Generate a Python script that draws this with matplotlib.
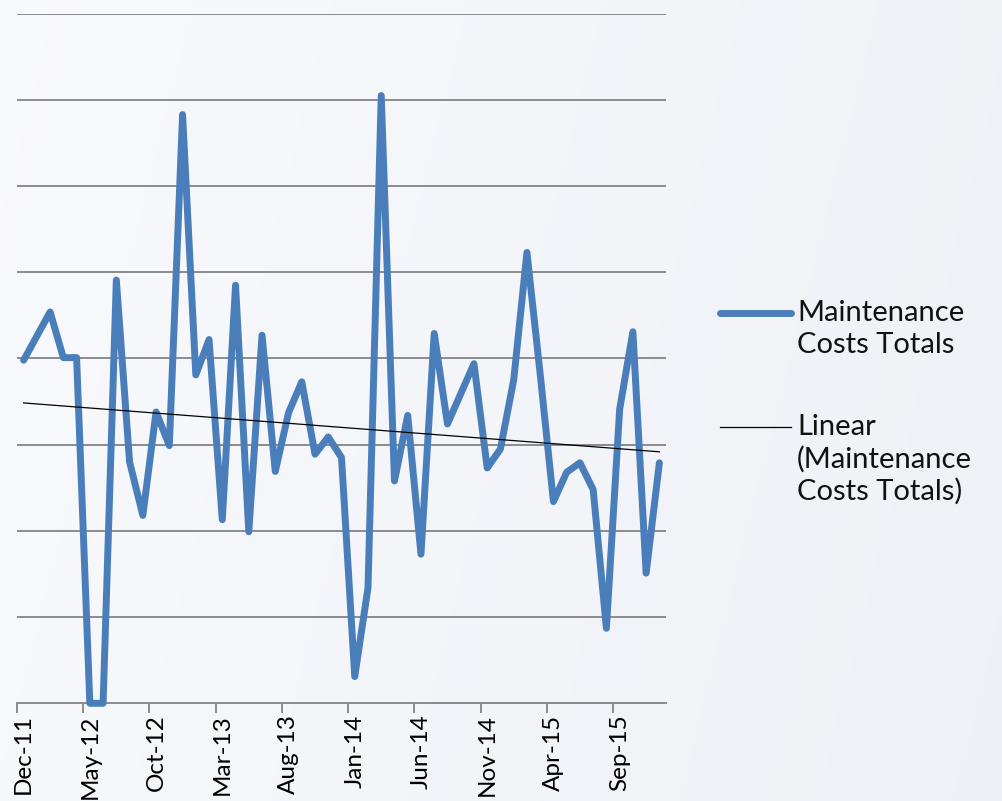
import numpy as np
import matplotlib
matplotlib.use("Agg")
import matplotlib.pyplot as plt
from matplotlib.lines import Line2D

# monthly maintenance cost totals (in gridline units), Dec-11 .. Dec-15
months = ["Dec-11", "Jan-12", "Feb-12", "Mar-12", "Apr-12", "May-12", "Jun-12",
          "Jul-12", "Aug-12", "Sep-12", "Oct-12", "Nov-12", "Dec-12", "Jan-13",
          "Feb-13", "Mar-13", "Apr-13", "May-13", "Jun-13", "Jul-13", "Aug-13",
          "Sep-13", "Oct-13", "Nov-13", "Dec-13", "Jan-14", "Feb-14", "Mar-14",
          "Apr-14", "May-14", "Jun-14", "Jul-14", "Aug-14", "Sep-14", "Oct-14",
          "Nov-14", "Dec-14", "Jan-15", "Feb-15", "Mar-15", "Apr-15", "May-15",
          "Jun-15", "Jul-15", "Aug-15", "Sep-15", "Oct-15", "Nov-15", "Dec-15"]
costs = [3.98, 4.26, 4.54, 4.01, 4.01, 0.0, 0.0, 4.91, 2.80, 2.18,
         3.38, 2.99, 6.83, 3.81, 4.22, 2.13, 4.85, 1.99, 4.27, 2.69,
         3.37, 3.73, 2.89, 3.09, 2.85, 0.31, 1.34, 7.05, 2.58, 3.34,
         1.73, 4.29, 3.24, 3.59, 3.94, 2.73, 2.95, 3.75, 5.23, 3.82,
         2.34, 2.68, 2.79, 2.48, 0.87, 3.41, 4.31, 1.51, 2.79]

x = np.arange(len(costs))
slope, icpt = np.polyfit(x, costs, 1)
trend = slope * x + icpt

W, H = 1002, 801
fig = plt.figure(figsize=(W / 100, H / 100), dpi=100)

# soft background wash
bg = fig.add_axes([0, 0, 1, 1], zorder=-10)
gx = np.linspace(0, 1, 200)
gy = np.linspace(0, 1, 160)
GX, GY = np.meshgrid(gx, gy)
c0 = np.array([0.975, 0.978, 0.992])
c1 = np.array([0.930, 0.940, 0.960])
t = np.clip(0.75 * GX + 0.15 * GY, 0, 1)[..., None]
bg.imshow(c0 * (1 - t) + c1 * t, aspect="auto", extent=[0, 1, 0, 1])
bg.axis("off")

ax = fig.add_axes([17 / W, 1 - 703.3 / H, 649 / W, 689.6 / H])
ax.patch.set_alpha(0)

ax.plot(x, costs, color="#4a7ebb", lw=5, solid_joinstyle="round",
        solid_capstyle="round", clip_on=False, zorder=3)
ax.plot(x, trend, color="black", lw=0.9, zorder=4)

ax.set_xlim(-0.5, len(costs) - 0.5)
ax.set_ylim(0, 8)
ax.set_yticks(np.arange(0, 9))
ax.yaxis.grid(True, color="#8c8c8c", lw=1.4)
ax.tick_params(axis="y", left=False, labelleft=False)

ax.set_xticks(x[::5])
ax.set_xticklabels(months[::5], rotation=90, fontsize=17.5, family="Lato")
ax.set_xticks(np.arange(-0.5, len(costs), 5), minor=True)
ax.tick_params(axis="x", which="major", length=0, pad=8)
ax.tick_params(axis="x", which="minor", length=7, width=1.4, color="#8c8c8c")

for s in ["left", "right", "top"]:
    ax.spines[s].set_visible(False)
ax.spines["bottom"].set_color("#8c8c8c")
ax.spines["bottom"].set_linewidth(1.4)

# legend at right, drawn line by line so the key sits by the first line
fig.add_artist(Line2D([720 / W, 791 / W], [1 - 313 / H] * 2, color="#4a7ebb",
                      lw=5, solid_capstyle="round"))
for yy, s in [(313, "Maintenance"), (345, "Costs Totals")]:
    fig.text(797 / W, 1 - yy / H, s, fontsize=21, family="Lato",
             va="center", ha="left", color="#111111")
fig.add_artist(Line2D([720 / W, 791 / W], [1 - 427 / H] * 2, color="black",
                      lw=0.9))
for yy, s in [(427, "Linear"), (459, "(Maintenance"), (491, "Costs Totals)")]:
    fig.text(797 / W, 1 - yy / H, s, fontsize=21, family="Lato",
             va="center", ha="left", color="#111111")

fig.savefig("out.png", dpi=100)
